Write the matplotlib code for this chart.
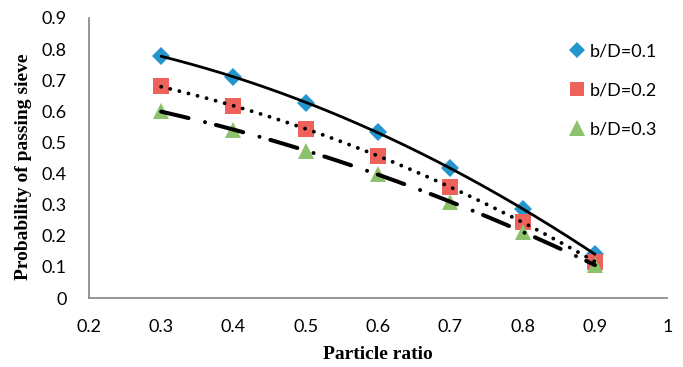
import numpy as np
import matplotlib
matplotlib.use("Agg")
import matplotlib.pyplot as plt
from matplotlib.lines import Line2D

# particle ratio and the three b/D series
ratio = [0.3, 0.4, 0.5, 0.6, 0.7, 0.8, 0.9]
bd01 = [0.778, 0.71, 0.627, 0.533, 0.417, 0.287, 0.14]
bd02 = [0.68, 0.617, 0.543, 0.457, 0.357, 0.244, 0.116]
bd03 = [0.60, 0.54, 0.473, 0.399, 0.309, 0.212, 0.106]
labels = ["b/D=0.1", "b/D=0.2", "b/D=0.3"]

xticks = [0.2, 0.3, 0.4, 0.5, 0.6, 0.7, 0.8, 0.9, 1]
xticklabels = ["0.2", "0.3", "0.4", "0.5", "0.6", "0.7", "0.8", "0.9", "1"]
yticks = [0, 0.1, 0.2, 0.3, 0.4, 0.5, 0.6, 0.7, 0.8, 0.9]
yticklabels = ["0", "0.1", "0.2", "0.3", "0.4", "0.5", "0.6", "0.7", "0.8", "0.9"]

fig = plt.figure(figsize=(6.83, 3.67), dpi=100)
ax = fig.add_axes([0.130, 0.188, 0.847, 0.763])

tick_font = "Lato"
serif = "Liberation Serif"

colors = ["#2596CD", "#EF625B", "#8DC26C"]
markers = ["D", "s", "^"]
msizes = [9, 12, 12]
styles = ["-", (0, (0.01, 2.4)), (0, (7.0, 4.2, 0.01, 2.8))]
widths = [2.0, 2.8, 2.9]

xs = np.linspace(ratio[0], ratio[-1], 200)
for ys, c, m, ms, ls, lw in zip([bd01, bd02, bd03], colors, markers, msizes, styles, widths):
    ax.plot(ratio, ys, linestyle="none", marker=m, markersize=ms,
            color=c, markeredgewidth=0, zorder=2)
    # excel style polynomial trendline
    p = np.polyfit(ratio, ys, 2)
    ax.plot(xs, np.polyval(p, xs), color="black", linestyle=ls, linewidth=lw,
            solid_capstyle="round", dash_capstyle="round", zorder=3)

ax.set_xlim(0.2, 1)
ax.set_ylim(0, 0.9)
ax.set_xticks(xticks)
ax.set_xticklabels(xticklabels, fontname=tick_font, fontsize=13)
ax.set_yticks(yticks)
ax.set_yticklabels(yticklabels, fontname=tick_font, fontsize=13)
ax.tick_params(axis="x", length=0, pad=15)
ax.tick_params(axis="y", length=0, pad=16)

for side in ["top", "right"]:
    ax.spines[side].set_visible(False)
for side in ["left", "bottom"]:
    ax.spines[side].set_color("#8C8C8C")
    ax.spines[side].set_linewidth(1.3)

ax.set_xlabel("Particle ratio", fontname=serif, fontweight="bold", fontsize=14, labelpad=8)
ax.set_ylabel("Probability of passing sieve", fontname=serif, fontweight="bold", fontsize=14, labelpad=0)
ax.yaxis.set_label_coords(-0.099, 0.47)

handles = [Line2D([], [], linestyle="none", marker=m, markersize=ms, color=c, markeredgewidth=0)
           for m, ms, c in zip(markers, [8, 10.5, 11], colors)]
leg = fig.legend(handles, labels, loc="upper left", bbox_to_anchor=(0.810, 0.925),
                 frameon=False, prop={"family": tick_font, "size": 13},
                 handlelength=0.8, handletextpad=0.3, labelspacing=1.27)

fig.savefig("out.png", dpi=100)
